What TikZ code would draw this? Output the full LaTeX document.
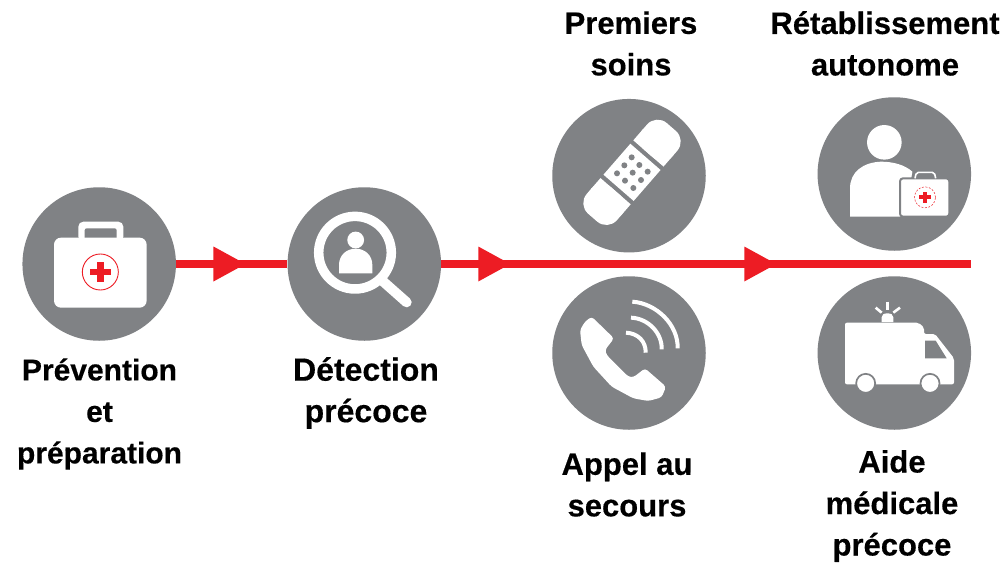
\documentclass[tikz,border=0pt]{standalone}
\usepackage{fontspec}
\setmainfont{Liberation Sans}
\newfontfamily\heavyface[FakeBold=0.35]{Liberation Sans Bold}
\usetikzlibrary{decorations.markings}
\definecolor{disc}{HTML}{808285}
\definecolor{flowred}{HTML}{ED1C24}
\tikzset{
  x=1pt,y=-1pt,
  stage/.style={circle,fill=disc,minimum size=153.5pt,inner sep=0pt},
  label/.style={font=\heavyface\fontsize{#1}{41.5}\selectfont,align=center,text=black,inner sep=0pt},
  flow/.style={draw=flowred,line width=7.5pt},
  tip/.style={postaction={decorate,decoration={markings,mark=at position #1pt with {\fill[flowred] (-32pt,-17.5pt)--(0pt,0pt)--(-32pt,17.5pt)--cycle;}}}},
  icon/.style={shift={(#1)},x=.33333pt,y=-.33333pt},
}
\begin{document}
\begin{tikzpicture}
\useasboundingbox (0,0) rectangle (1003,562);
\fill[white] (0,0) rectangle (1003,562);

\node[stage] (kit) at (99.2,264) {};
\node[stage] (search) at (364.3,264) {};
\node[stage] (bandage) at (629,175.7) {};
\node[stage] (phone) at (629,353) {};
\node[stage] (person) at (894.3,174) {};
\node[stage] (ambulance) at (894.3,353) {};
\coordinate (lineend) at (971,264);

\path[flow,tip=69.3] (kit.east) -- (search.west);
\path[flow,tip=69] (search.east) -- (lineend);
\path[flow,tip=335] (search.east) -- (lineend);

% first aid kit
\begin{scope}[icon={0,170}]
  \fill[white,rounded corners=5pt] (235,215) -- (235,155) -- (370,155) -- (370,215) -- cycle;
  \fill[disc,rounded corners=2pt] (254,210) -- (254,175) -- (350,175) -- (350,210) -- cycle;
  \fill[white,rounded corners=7pt] (162,203) rectangle (440,413);
  \draw[flowred,line width=.9pt] (301,306) circle (18pt);
  \fill[flowred] (291,275) rectangle (311,337);
  \fill[flowred] (270,296) rectangle (332,316);
\end{scope}

% magnifier
\begin{scope}[icon={270,170}]
  \draw[white,line width=9.5pt] (255,248) circle (36.3pt);
  \draw[white,line width=10pt,line cap=round] (340,335) -- (410,397);
  \fill[white] (257,210) circle (8.4pt);
  \fill[white] (207,310) -- (207,285) .. controls (207,255) and (230,236) .. (257,236)
     .. controls (284,236) and (307,255) .. (307,285) -- (307,310) -- cycle;
\end{scope}

% bandage
\begin{scope}[icon={540,90}]
  \begin{scope}[shift={(276,247)},rotate=49]
    \fill[white,rounded corners=14pt] (25pt,-20pt) rectangle (60pt,20pt);
    \fill[white,rounded corners=14pt] (-60pt,-20pt) rectangle (-25pt,20pt);
    \fill[white] (25pt,-20pt) rectangle (40pt,20pt);
    \fill[white] (-40pt,-20pt) rectangle (-25pt,20pt);
    \fill[white] (-20.5pt,-20pt) rectangle (20.5pt,20pt);
  \end{scope}
  \foreach \p in {(275,202),(253,226),(298,225),(231,250),(278,248),(323,245),(255,272),(303,270),(280,294)}
    \fill[disc] \p circle (3pt);
\end{scope}

% telephone
\begin{scope}[icon={540,270}]
  \fill[white,rounded corners=3pt] (155,140) -- (222,205) -- (195,240) -- (200,255) -- (265,320)
     -- (280,322) -- (315,295) -- (378,350) -- (365,382) -- (325,393) -- (280,385) -- (215,350)
     -- (160,290) -- (125,225) -- (120,180) -- (135,155) -- cycle;
  \draw[white,line width=4pt] (258,188) .. controls (295,190) and (318,215) .. (317,248);
  \draw[white,line width=4pt] (273,143) .. controls (325,145) and (367,190) .. (365,238);
  \draw[white,line width=4pt] (277,95) .. controls (350,100) and (415,165) .. (413,235);
\end{scope}

% person with kit
\begin{scope}[icon={805,90}]
  \fill[white] (238,157) circle (17.3pt);
  \fill[white] (135,380) -- (135,295) .. controls (135,245) and (175,217) .. (228,215)
     .. controls (265,215) and (300,225) .. (322,245) -- (300,380) -- cycle;
  \fill[white,draw=disc,line width=2pt,rounded corners=3pt] (285,265) rectangle (433,380);
  \draw[white,line width=1.6pt,rounded corners=2pt] (330,265) -- (334,247) -- (388,247) -- (392,265);
  \draw[flowred,line width=.5pt,dash pattern=on 2pt off 1.5pt] (360,322) circle (10.5pt);
  \fill[flowred] (354,305) rectangle (366,339);
  \fill[flowred] (343,316) rectangle (377,328);
\end{scope}

% ambulance
\begin{scope}[icon={805,270}]
  \fill[white,rounded corners=2pt] (120,343) -- (120,158) -- (340,158) -- (357,172) -- (357,192)
     -- (390,192) -- (447,265) -- (447,343) -- cycle;
  \fill[disc] (360,212) -- (392,212) -- (425,265) -- (360,265) -- cycle;
  \fill[white,draw=disc,line width=1.7pt] (182,340) circle (9.5pt);
  \fill[white,draw=disc,line width=1.7pt] (375,340) circle (9.5pt);
  \fill[white] (230,156) -- (230,142) .. controls (230,134) and (236,130) .. (247,130)
     .. controls (258,130) and (265,134) .. (265,142) -- (265,156) -- cycle;
  \draw[white,line width=2.6pt] (247,95) -- (247,121);
  \draw[white,line width=2.6pt] (212,113) -- (230,128);
  \draw[white,line width=2.6pt] (285,113) -- (265,128);
\end{scope}

\node[label=30] (tkit) at (99.5,414) {Prévention\\et\\préparation};
\node[label=32] (tsearch) at (366,393) {Détection\\précoce};
\node[label=31] (tbandage) at (631,43.5) {Premiers\\soins};
\node[label=31] (tperson) at (885,43.5) {Rétablissement\\autonome};
\node[label=31] (tphone) at (627,484.5) {Appel au\\secours};
\node[label=31] (tambulance) at (892,506) {Aide\\médicale\\précoce};
\end{tikzpicture}
\end{document}
